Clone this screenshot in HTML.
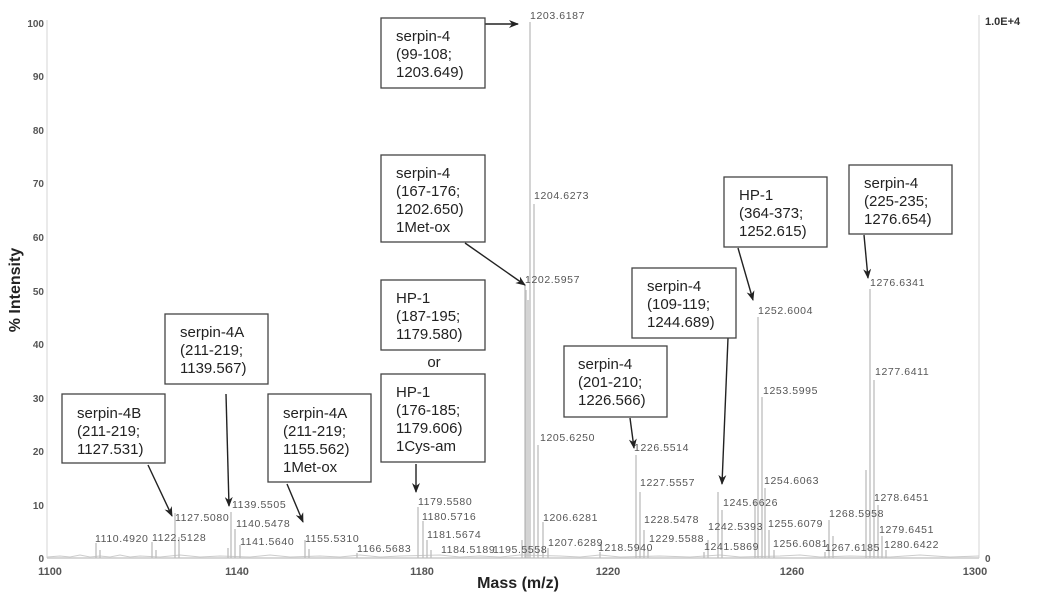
<!DOCTYPE html>
<html><head><meta charset="utf-8"><style>
html,body{margin:0;padding:0;background:#fff;}
svg{display:block;font-family:"Liberation Sans",sans-serif;}
.pk{stroke:#bdbdbd;stroke-width:1.3;}
.lb{font-size:10.5px;fill:#555;letter-spacing:0.6px;}
.bx{fill:#fff;stroke:#444;stroke-width:1.3;}
.bt{font-size:15px;fill:#222;}
.ar{stroke:#222;stroke-width:1.4;fill:none;marker-end:url(#ah);}
.tk{font-size:10px;font-weight:bold;fill:#555;}
</style></head><body>
<svg width="1050" height="602" viewBox="0 0 1050 602">
<defs><marker id="ah" markerWidth="10" markerHeight="8" refX="9" refY="4" orient="auto" markerUnits="userSpaceOnUse"><path d="M0,0 L10,4 L0,8 L3,4 Z" fill="#222"/></marker></defs>
<!-- axes -->
<line x1="47" y1="20" x2="47" y2="558" stroke="#ddd" stroke-width="1.2"/>
<line x1="979" y1="15" x2="979" y2="558" stroke="#ddd" stroke-width="1.2"/>
<line x1="47" y1="558" x2="979" y2="558" stroke="#ccc" stroke-width="1.5"/>
<polyline fill="none" stroke="#ccc" stroke-width="1" points="47,557 60,556 70,557 80,555 90,557 100,556 110,557 120,555 130,557 140,556 160,557 180,555 200,557 220,556 250,557 270,555 290,557 320,556 340,557 360,555 380,557 400,556 440,555 460,557 480,556 500,557 520,555 560,556 580,557 600,555 620,557 660,556 690,557 720,555 740,557 780,556 800,555 820,557 850,556 890,557 920,555 950,557 979,556"/>
<g class="tk" text-anchor="end">
<text x="44" y="27">100</text><text x="44" y="80">90</text><text x="44" y="134">80</text><text x="44" y="187">70</text><text x="44" y="241">60</text><text x="44" y="295">50</text><text x="44" y="348">40</text><text x="44" y="402">30</text><text x="44" y="455">20</text><text x="44" y="509">10</text><text x="44" y="562">0</text>
</g>
<text x="985" y="25" style="font-size:11px;font-weight:bold;fill:#333">1.0E+4</text>
<text x="985" y="562" class="tk">0</text>
<g class="tk" text-anchor="middle" style="font-size:11px">
<text x="50" y="575">1100</text><text x="237" y="575">1140</text><text x="422" y="575">1180</text><text x="608" y="575">1220</text><text x="792" y="575">1260</text><text x="975" y="575">1300</text>
</g>
<text x="518" y="588" text-anchor="middle" style="font-size:16px;font-weight:bold;fill:#222">Mass (m/z)</text>
<text transform="translate(20,290) rotate(-90)" text-anchor="middle" style="font-size:16px;font-weight:bold;fill:#222">% Intensity</text>
<!-- peaks -->
<g class="pk">
<line x1="530" y1="558" x2="530" y2="22"/><line x1="534" y1="558" x2="534" y2="204"/><line x1="525" y1="558" x2="525" y2="285"/>
<line x1="538" y1="558" x2="538" y2="445"/><line x1="543" y1="558" x2="543" y2="522"/><line x1="548" y1="558" x2="548" y2="548"/>
<line x1="526" y1="558" x2="526" y2="290"/><line x1="528" y1="558" x2="528" y2="300"/><line x1="522" y1="558" x2="522" y2="540"/>
<line x1="418" y1="558" x2="418" y2="507"/><line x1="423" y1="558" x2="423" y2="521"/><line x1="427" y1="558" x2="427" y2="540"/><line x1="431" y1="558" x2="431" y2="550"/>
<line x1="175" y1="558" x2="175" y2="513"/><line x1="179" y1="558" x2="179" y2="537"/><line x1="152" y1="558" x2="152" y2="542"/><line x1="156" y1="558" x2="156" y2="550"/><line x1="96" y1="558" x2="96" y2="543"/><line x1="100" y1="558" x2="100" y2="550"/>
<line x1="231" y1="558" x2="231" y2="512"/><line x1="235" y1="558" x2="235" y2="529"/><line x1="240" y1="558" x2="240" y2="545"/><line x1="228" y1="558" x2="228" y2="548"/>
<line x1="305" y1="558" x2="305" y2="540"/><line x1="309" y1="558" x2="309" y2="549"/><line x1="357" y1="558" x2="357" y2="553"/>
<line x1="636" y1="558" x2="636" y2="455"/><line x1="640" y1="558" x2="640" y2="492"/><line x1="644" y1="558" x2="644" y2="530"/><line x1="648" y1="558" x2="648" y2="548"/><line x1="600" y1="558" x2="600" y2="552"/>
<line x1="718" y1="558" x2="718" y2="492"/><line x1="722" y1="558" x2="722" y2="510"/><line x1="708" y1="558" x2="708" y2="540"/><line x1="704" y1="558" x2="704" y2="552"/>
<line x1="758" y1="558" x2="758" y2="317"/><line x1="762" y1="558" x2="762" y2="397"/><line x1="755" y1="558" x2="755" y2="500"/><line x1="765" y1="558" x2="765" y2="488"/><line x1="769" y1="558" x2="769" y2="530"/><line x1="774" y1="558" x2="774" y2="550"/>
<line x1="829" y1="558" x2="829" y2="520"/><line x1="833" y1="558" x2="833" y2="536"/><line x1="825" y1="558" x2="825" y2="552"/>
<line x1="870" y1="558" x2="870" y2="289"/><line x1="874" y1="558" x2="874" y2="380"/><line x1="878" y1="558" x2="878" y2="505"/><line x1="882" y1="558" x2="882" y2="536"/><line x1="886" y1="558" x2="886" y2="550"/><line x1="866" y1="558" x2="866" y2="470"/>
</g>
<g class="lb">
<text x="530" y="19">1203.6187</text><text x="534" y="199">1204.6273</text><text x="525" y="283">1202.5957</text>
<text x="540" y="441">1205.6250</text><text x="543" y="521">1206.6281</text><text x="548" y="546">1207.6289</text>
<text x="493" y="553">1195.5558</text><text x="441" y="553">1184.5189</text><text x="427" y="538">1181.5674</text><text x="422" y="520">1180.5716</text><text x="418" y="505">1179.5580</text>
<text x="357" y="552">1166.5683</text><text x="305" y="542">1155.5310</text><text x="240" y="545">1141.5640</text><text x="236" y="527">1140.5478</text><text x="232" y="508">1139.5505</text>
<text x="175" y="521">1127.5080</text><text x="152" y="541">1122.5128</text><text x="95" y="542">1110.4920</text>
<text x="634" y="451">1226.5514</text><text x="640" y="486">1227.5557</text><text x="644" y="523">1228.5478</text><text x="649" y="542">1229.5588</text><text x="598" y="551">1218.5940</text>
<text x="723" y="506">1245.6626</text><text x="708" y="530">1242.5393</text><text x="704" y="550">1241.5869</text>
<text x="758" y="314">1252.6004</text><text x="763" y="394">1253.5995</text><text x="764" y="484">1254.6063</text><text x="768" y="527">1255.6079</text><text x="773" y="547">1256.6081</text>
<text x="829" y="517">1268.5958</text><text x="825" y="551">1267.6185</text>
<text x="870" y="286">1276.6341</text><text x="875" y="375">1277.6411</text><text x="874" y="501">1278.6451</text><text x="879" y="533">1279.6451</text><text x="884" y="548">1280.6422</text>
</g>
<!-- arrows -->
<path class="ar" d="M484,24 L518,24"/>
<path class="ar" d="M465,243 L525,285"/>
<path class="ar" d="M416,464 L416,492"/>
<path class="ar" d="M226,394 L229,506"/>
<path class="ar" d="M148,465 L172,516"/>
<path class="ar" d="M287,484 L303,522"/>
<path class="ar" d="M630,418 L634,448"/>
<path class="ar" d="M728,338 L722,484"/>
<path class="ar" d="M738,248 L753,300"/>
<path class="ar" d="M864,235 L868,278"/>
<!-- boxes -->
<g>
<rect class="bx" x="381" y="18" width="104" height="70"/>
<text class="bt" x="396" y="41">serpin-4</text><text class="bt" x="396" y="59">(99-108;</text><text class="bt" x="396" y="77">1203.649)</text>
<rect class="bx" x="381" y="155" width="104" height="87"/>
<text class="bt" x="396" y="178">serpin-4</text><text class="bt" x="396" y="196">(167-176;</text><text class="bt" x="396" y="214">1202.650)</text><text class="bt" x="396" y="232">1Met-ox</text>
<rect class="bx" x="381" y="280" width="104" height="70"/>
<text class="bt" x="396" y="303">HP-1</text><text class="bt" x="396" y="321">(187-195;</text><text class="bt" x="396" y="339">1179.580)</text>
<text class="bt" x="434" y="367" text-anchor="middle">or</text>
<rect class="bx" x="381" y="374" width="104" height="88"/>
<text class="bt" x="396" y="397">HP-1</text><text class="bt" x="396" y="415">(176-185;</text><text class="bt" x="396" y="433">1179.606)</text><text class="bt" x="396" y="451">1Cys-am</text>
<rect class="bx" x="165" y="314" width="103" height="70"/>
<text class="bt" x="180" y="337">serpin-4A</text><text class="bt" x="180" y="355">(211-219;</text><text class="bt" x="180" y="373">1139.567)</text>
<rect class="bx" x="62" y="394" width="103" height="69"/>
<text class="bt" x="77" y="418">serpin-4B</text><text class="bt" x="77" y="436">(211-219;</text><text class="bt" x="77" y="454">1127.531)</text>
<rect class="bx" x="268" y="394" width="103" height="88"/>
<text class="bt" x="283" y="418">serpin-4A</text><text class="bt" x="283" y="436">(211-219;</text><text class="bt" x="283" y="454">1155.562)</text><text class="bt" x="283" y="472">1Met-ox</text>
<rect class="bx" x="564" y="346" width="103" height="71"/>
<text class="bt" x="578" y="369">serpin-4</text><text class="bt" x="578" y="387">(201-210;</text><text class="bt" x="578" y="405">1226.566)</text>
<rect class="bx" x="632" y="268" width="104" height="70"/>
<text class="bt" x="647" y="291">serpin-4</text><text class="bt" x="647" y="309">(109-119;</text><text class="bt" x="647" y="327">1244.689)</text>
<rect class="bx" x="724" y="177" width="103" height="70"/>
<text class="bt" x="739" y="200">HP-1</text><text class="bt" x="739" y="218">(364-373;</text><text class="bt" x="739" y="236">1252.615)</text>
<rect class="bx" x="849" y="165" width="103" height="69"/>
<text class="bt" x="864" y="188">serpin-4</text><text class="bt" x="864" y="206">(225-235;</text><text class="bt" x="864" y="224">1276.654)</text>
</g>
</svg>
</body></html>
